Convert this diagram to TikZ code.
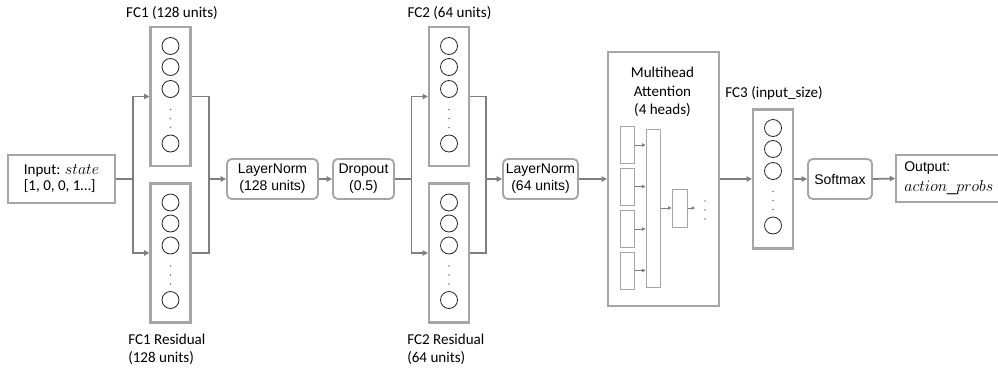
\documentclass[tikz,border=0pt]{standalone}
\usepackage{fontspec}
\setmainfont{Carlito}
\newfontfamily\arialfont{Liberation Sans}
\usetikzlibrary{arrows.meta}
\definecolor{boxgray}{HTML}{A6A6A6}
\definecolor{wiregray}{HTML}{7F7F7F}
\tikzset{
  layerbox/.style={draw=boxgray, line width=1.6pt, minimum width=30pt,
                   minimum height=104.25pt, inner sep=0pt},
  unit/.style={circle, draw=black!85, line width=0.6pt, minimum size=12.75pt, inner sep=0pt},
  opbox/.style={draw=boxgray, line width=1.4pt, rounded corners=3.5pt, minimum height=30pt,
                inner sep=0pt, align=center, font=\arialfont\fontsize{10.5}{12.75}\selectfont},
  iobox/.style={draw=boxgray, line width=1.4pt, minimum height=36pt, inner sep=0pt, align=left},
  headbox/.style={draw=boxgray, line width=0.75pt, minimum width=10.5pt, inner sep=0pt},
  lbl/.style={font=\fontsize{11.3}{13.5}\selectfont, inner sep=0pt},
  wire/.style={draw=wiregray, line width=1.3pt},
  thinwire/.style={draw=wiregray, line width=0.6pt},
  arrowed/.style={-{Triangle[length=4pt,width=4pt]}},
  smallarrowed/.style={-{Triangle[length=2.5pt,width=2.5pt]}},
}

\begin{document}
\begin{tikzpicture}[x=0.75pt, y=-0.75pt]
  \useasboundingbox (0,0) rectangle (998,371);

  \node[iobox, minimum width=80.25pt, font=\fontsize{11.3}{12}\selectfont] (input) at (61.5,179) {Input: {\fontsize{12.3}{12}\selectfont$state$}\\{}[1, 0, 0, 1…]};
  \node[layerbox] (fc1) at (170.5,96.5) {};
  \node[layerbox] (fc1r) at (170.5,253) {};
  \node[opbox, minimum width=68.25pt] (ln1) at (272.5,179) {LayerNorm\\(128 units)};
  \node[opbox, minimum width=45.75pt] (drop) at (363.5,179) {Dropout\\(0.5)};
  \node[layerbox] (fc2) at (449,96.5) {};
  \node[layerbox] (fc2r) at (449,253) {};
  \node[opbox, minimum width=56.25pt] (ln2) at (540.5,179) {LayerNorm\\(64 units)};
  \node[draw=boxgray, line width=1.6pt, minimum width=83.25pt, minimum height=190.5pt] (mha) at (663.5,179) {};
  \node[layerbox] (fc3) at (773,179) {};
  \node[opbox, minimum width=48pt] (soft) at (840,179) {Softmax};
  \node[iobox, minimum width=82.5pt, minimum height=35.25pt, text width=70pt, font=\arialfont\fontsize{10.5}{15}\selectfont] (out) at (951,178.5) {Output:\\{\fontsize{12.3}{15}\selectfont$action\_probs$}};

  \node[lbl] (fc1lbl) at (172,13) {FC1 (128 units)};
  \node[lbl, anchor=west, align=left] (fc1rlbl) at (128,349) {FC1 Residual\\(128 units)};
  \node[lbl] (fc2lbl) at (449.5,13) {FC2 (64 units)};
  \node[lbl, anchor=west, align=left] (fc2rlbl) at (407,349) {FC2 Residual\\(64 units)};
  \node[lbl] (fc3lbl) at (774,93) {FC3 (input\_size)};
  \node[lbl, align=center, font=\fontsize{11.3}{13.9}\selectfont] (mhalbl) at (662.5,92) {Multihead\\Attention\\(4 heads)};

  \node[unit] (fc1u1) at (170.5,46) {};
  \node[unit] (fc1u2) at (170.5,67) {};
  \node[unit] (fc1u3) at (170.5,89) {};
  \node[unit] (fc1un) at (170.5,143.5) {};
  \node[unit] (fc1ru1) at (170.5,202.5) {};
  \node[unit] (fc1ru2) at (170.5,223.5) {};
  \node[unit] (fc1ru3) at (170.5,245.5) {};
  \node[unit] (fc1run) at (170.5,300) {};
  \node[unit] (fc2u1) at (449,46) {};
  \node[unit] (fc2u2) at (449,67) {};
  \node[unit] (fc2u3) at (449,89) {};
  \node[unit] (fc2un) at (449,143.5) {};
  \node[unit] (fc2ru1) at (449,202.5) {};
  \node[unit] (fc2ru2) at (449,223.5) {};
  \node[unit] (fc2ru3) at (449,245.5) {};
  \node[unit] (fc2run) at (449,300) {};
  \node[unit] (fc3u1) at (773,128) {};
  \node[unit] (fc3u2) at (773,149) {};
  \node[unit] (fc3u3) at (773,171) {};
  \node[unit] (fc3un) at (773,225.5) {};
  \fill[wiregray] (170.5,109.5) circle[radius=0.6pt] (170.5,118.5) circle[radius=0.6pt] (170.5,127.5) circle[radius=0.6pt];
  \fill[wiregray] (170.5,266) circle[radius=0.6pt] (170.5,275) circle[radius=0.6pt] (170.5,284) circle[radius=0.6pt];
  \fill[wiregray] (449,109.5) circle[radius=0.6pt] (449,118.5) circle[radius=0.6pt] (449,127.5) circle[radius=0.6pt];
  \fill[wiregray] (449,266) circle[radius=0.6pt] (449,275) circle[radius=0.6pt] (449,284) circle[radius=0.6pt];
  \fill[wiregray] (773,191.5) circle[radius=0.6pt] (773,200.5) circle[radius=0.6pt] (773,209.5) circle[radius=0.6pt];

  \node[headbox, minimum height=27.75pt] (head1) at (627,145) {};
  \node[headbox, minimum height=27.75pt] (head2) at (627,186.5) {};
  \node[headbox, minimum height=27.75pt] (head3) at (627,229) {};
  \node[headbox, minimum height=27.75pt] (head4) at (627,270.5) {};
  \node[headbox, minimum height=118.5pt] (concat) at (653,208) {};
  \node[headbox, minimum width=11.25pt, minimum height=28.5pt] (proj) at (679.5,208) {};
  \coordinate (projout) at (695,208);
  \draw[thinwire, smallarrowed] (head1.east) -- (head1.east -| concat.west);
  \draw[thinwire, smallarrowed] (head2.east) -- (head2.east -| concat.west);
  \draw[thinwire, smallarrowed] (head3.east) -- (head3.east -| concat.west);
  \draw[thinwire, smallarrowed] (head4.east) -- (head4.east -| concat.west);
  \draw[thinwire, smallarrowed] (concat.east |- proj.west) -- (proj.west);
  \draw[thinwire, smallarrowed] (proj.east) -- (projout);
  \fill[wiregray] (705,201) circle[radius=0.6pt] (705,210) circle[radius=0.6pt] (705,219) circle[radius=0.6pt];

  \coordinate (split1) at (133,179);
  \coordinate (merge1) at (209,179);
  \coordinate (split2) at (411.5,179);
  \coordinate (merge2) at (486,179);
  \draw[wire] (input.east) -- (split1);
  \draw[wire, arrowed] (split1) |- (fc1.west);
  \draw[wire, arrowed] (split1) |- (fc1r.west);
  \draw[wire] (fc1.east) -| (merge1);
  \draw[wire] (fc1r.east) -| (merge1);
  \draw[wire, arrowed] (merge1) -- (ln1.west);
  \draw[wire, arrowed] (ln1.east) -- (drop.west);
  \draw[wire] (drop.east) -- (split2);
  \draw[wire, arrowed] (split2) |- (fc2.west);
  \draw[wire, arrowed] (split2) |- (fc2r.west);
  \draw[wire] (fc2.east) -| (merge2);
  \draw[wire] (fc2r.east) -| (merge2);
  \draw[wire, arrowed] (merge2) -- (ln2.west);
  \draw[wire, arrowed] (ln2.east) -- (mha.west);
  \draw[wire, arrowed] (mha.east) -- (fc3.west);
  \draw[wire, arrowed] (fc3.east) -- (soft.west);
  \draw[wire, arrowed] (soft.east) -- (out.west);
\end{tikzpicture}
\end{document}
